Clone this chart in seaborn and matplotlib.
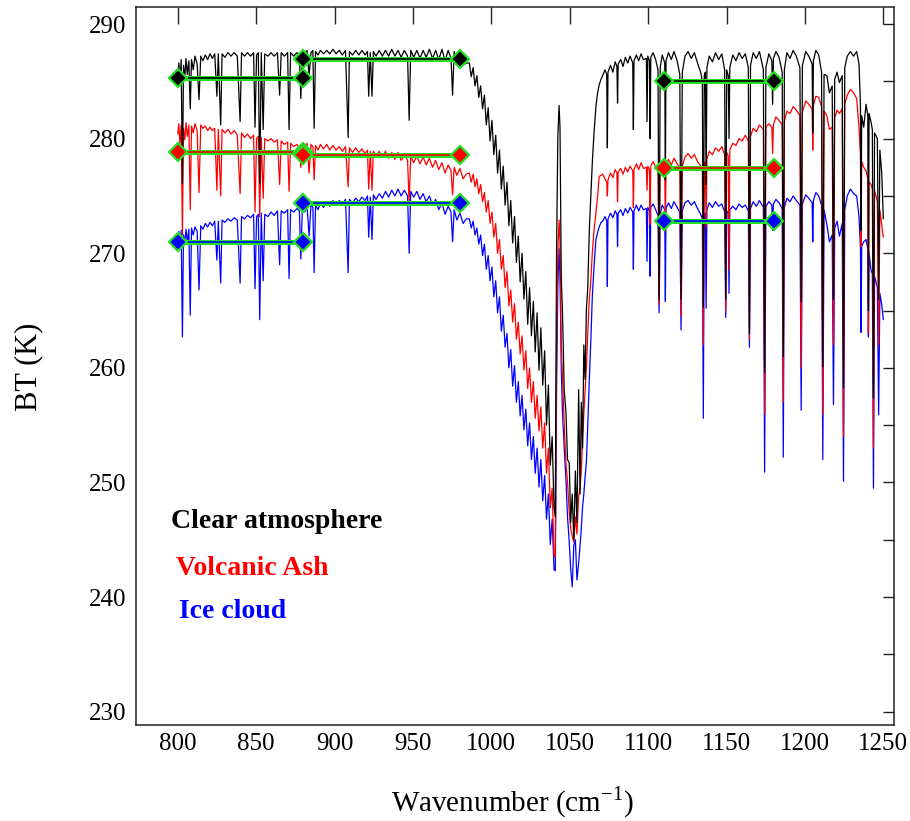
import numpy as np
import matplotlib
matplotlib.use('Agg')
import matplotlib.pyplot as plt
import seaborn as sns
from matplotlib.ticker import MultipleLocator

sns.set_style('white')
plt.rcParams['font.family'] = ['Liberation Serif', 'DejaVu Serif']
plt.rcParams['mathtext.fontset'] = 'custom'
plt.rcParams['mathtext.rm'] = 'Liberation Serif'
plt.rcParams['text.color'] = 'black'
plt.rcParams['axes.labelcolor'] = 'black'
plt.rcParams['xtick.labelcolor'] = 'black'
plt.rcParams['ytick.labelcolor'] = 'black'

# --- spectra (wavenumber in cm-1, BT in K) ---
# window 800-985
wn_win1 = [800.0, 800.7, 801.4, 802.2, 803.0, 803.7, 804.5, 805.3, 806.1, 807.1,
           808.0, 808.8, 809.9, 811.0, 812.4, 813.6, 814.7, 816.1, 817.6, 819.1,
           820.6, 822.1, 823.6, 825.0, 825.9, 827.4, 828.3, 830.1, 832.0, 834.0,
           836.0, 838.0, 839.8, 840.7, 842.6, 844.5, 846.5, 848.4, 849.3, 850.3,
           851.4, 852.3, 853.3, 854.5, 855.5, 857.5, 859.5, 861.5, 863.6, 865.0,
           866.0, 868.0, 870.1, 871.0, 872.0, 874.0, 876.0, 877.6, 878.5, 879.5,
           881.0, 882.5, 883.8, 885.0, 886.2, 887.0, 887.9, 889.5, 891.0, 893.0,
           895.0, 897.0, 899.0, 901.0, 903.0, 905.0, 907.0, 908.7, 909.5, 911.5,
           913.5, 915.5, 917.5, 919.5, 921.0, 921.8, 922.8, 923.9, 924.8, 926.5,
           928.5, 930.5, 932.5, 934.5, 936.5, 938.5, 940.5, 942.5, 944.5, 946.6,
           947.6, 948.6, 950.5, 952.5, 954.5, 956.5, 958.5, 960.5, 962.5, 964.5,
           966.5, 968.5, 970.5, 972.5, 974.3, 975.3, 976.3, 978.0, 980.0, 982.0,
           984.0]
clear_win1 = [285.2, 286.6, 285.0, 286.9, 276.1, 286.4, 285.3, 287.0, 285.6, 286.8,
              282.6, 286.9, 286.0, 287.2, 286.5, 283.4, 287.2, 286.8, 287.3, 286.9,
              287.4, 287.0, 287.4, 283.7, 287.4, 281.2, 287.4, 287.1, 287.5, 287.2,
              287.5, 287.2, 281.5, 287.5, 287.2, 287.5, 287.2, 287.5, 281.0, 287.3,
              287.5, 276.1, 287.5, 280.8, 287.4, 287.2, 287.5, 287.2, 287.5, 283.8,
              287.5, 287.2, 287.5, 280.8, 287.5, 287.2, 287.5, 287.3, 283.5, 287.6,
              287.3, 287.7, 285.5, 287.5, 287.7, 280.9, 287.6, 287.3, 287.7, 287.4,
              287.7, 287.4, 287.8, 287.4, 287.7, 287.3, 287.7, 280.1, 287.6, 287.3,
              287.7, 287.3, 287.7, 287.3, 287.6, 283.7, 287.5, 283.7, 287.6, 287.2,
              287.7, 287.2, 287.7, 287.2, 287.8, 287.2, 287.7, 287.1, 287.7, 287.2,
              281.6, 287.7, 287.1, 287.7, 287.0, 287.7, 287.1, 287.8, 287.0, 287.7,
              286.9, 287.8, 286.8, 287.7, 287.0, 283.8, 287.6, 286.8, 287.3, 286.4,
              286.6]
ash_win1 = [280.4, 281.3, 279.6, 281.2, 271.6, 280.9, 279.9, 281.4, 280.2, 281.2,
            273.8, 281.1, 280.5, 281.3, 280.7, 275.3, 281.2, 280.9, 281.1, 280.7,
            281.0, 280.7, 280.9, 275.5, 280.8, 275.0, 280.8, 280.5, 280.8, 280.4,
            280.7, 280.3, 275.2, 280.5, 280.1, 280.4, 280.0, 280.3, 273.6, 280.0,
            280.2, 273.2, 280.1, 274.8, 280.0, 279.8, 280.0, 279.7, 279.9, 276.0,
            279.8, 279.5, 279.7, 275.4, 279.6, 279.3, 279.5, 279.2, 277.5, 279.4,
            279.0, 279.6, 277.0, 279.5, 279.3, 276.4, 279.4, 279.0, 279.5, 279.1,
            279.5, 279.0, 279.4, 279.0, 279.3, 278.9, 279.3, 275.8, 279.2, 278.8,
            279.2, 278.8, 279.1, 278.7, 279.0, 275.6, 278.9, 275.5, 278.9, 278.5,
            278.9, 278.4, 278.9, 278.3, 278.8, 278.2, 278.8, 278.1, 278.6, 278.1,
            274.4, 278.5, 277.9, 278.5, 277.8, 278.4, 277.7, 278.3, 277.5, 278.1,
            277.3, 277.9, 277.0, 277.7, 277.2, 275.1, 277.5, 276.8, 277.4, 276.5,
            276.9]
ice_win1 = [271.2, 271.9, 270.4, 272.0, 262.7, 271.6, 270.9, 272.1, 271.0, 272.1,
            264.6, 272.2, 271.6, 272.3, 271.9, 266.8, 272.4, 272.1, 272.6, 272.3,
            272.7, 272.4, 272.8, 269.4, 272.8, 267.4, 272.9, 272.7, 273.0, 272.8,
            273.1, 272.9, 267.4, 273.2, 273.0, 273.3, 273.1, 273.4, 266.9, 273.2,
            273.4, 264.2, 273.5, 267.6, 273.4, 273.2, 273.6, 273.3, 273.7, 269.0,
            273.7, 273.5, 273.8, 267.8, 273.8, 273.6, 273.9, 273.7, 269.5, 274.0,
            273.6, 274.1, 271.5, 274.2, 274.0, 268.3, 274.2, 273.8, 274.4, 274.0,
            274.5, 274.1, 274.6, 274.2, 274.6, 274.3, 274.7, 268.3, 274.7, 274.4,
            274.8, 274.5, 274.9, 274.6, 275.0, 271.4, 274.9, 271.2, 275.1, 274.7,
            275.2, 274.8, 275.4, 274.9, 275.5, 275.0, 275.6, 275.0, 275.5, 275.0,
            270.0, 275.4, 274.9, 275.4, 274.7, 275.2, 274.5, 275.0, 274.2, 274.7,
            273.8, 274.4, 273.4, 274.1, 273.6, 271.0, 273.8, 272.9, 273.5, 272.6,
            273.0]

# ozone band 986-1070
wn_band = [986.0, 987.2, 988.4, 989.6, 990.8, 992.0, 993.2, 994.4, 995.6, 996.8,
           998.0, 999.2, 1000.4, 1001.6, 1002.8, 1004.0, 1005.2, 1006.4, 1007.6, 1008.8,
           1010.0, 1011.2, 1012.4, 1013.6, 1014.8, 1016.0, 1017.2, 1018.4, 1019.6, 1020.8,
           1022.0, 1023.2, 1024.4, 1025.6, 1026.8, 1028.0, 1029.2, 1030.4, 1031.6, 1032.8,
           1034.0, 1035.2, 1036.4, 1037.6, 1038.8, 1040.0, 1040.8, 1041.6, 1042.4, 1043.2,
           1043.8, 1044.6, 1045.4, 1046.5, 1047.6, 1048.6, 1049.7, 1050.6, 1051.6, 1052.6,
           1053.6, 1054.6, 1055.7, 1056.6, 1057.4, 1058.2, 1059.0, 1059.8, 1060.6, 1061.5,
           1062.5, 1063.5, 1064.4, 1065.5, 1066.7, 1067.8, 1068.8, 1070.0]
clear_band = [286.6, 285.4, 286.2, 284.6, 285.5, 283.6, 284.6, 282.6, 283.8, 281.2,
              282.7, 279.8, 281.6, 278.6, 280.3, 277.0, 279.0, 275.6, 277.6, 274.2,
              276.2, 272.4, 274.6, 270.9, 273.2, 269.2, 271.5, 267.5, 270.0, 266.0,
              268.4, 263.8, 267.0, 262.8, 265.8, 261.4, 264.8, 259.8, 263.5, 258.5,
              261.5, 255.0, 258.5, 251.5, 254.0, 247.8, 247.0, 270.0, 280.0, 282.9,
              281.0, 268.0, 264.8, 258.0, 256.1, 252.0, 251.7, 246.5, 249.0, 245.0,
              251.0, 246.5, 258.1, 249.0, 257.0, 253.0, 262.0, 259.0, 265.0, 267.0,
              272.0, 275.0, 277.9, 280.5, 282.8, 284.0, 284.7, 285.2]
ash_band = [277.0, 276.2, 276.9, 275.8, 276.5, 275.2, 276.0, 274.5, 275.3, 273.6,
            274.6, 272.6, 273.6, 271.4, 272.6, 270.0, 271.2, 268.6, 269.8, 267.0,
            268.4, 265.4, 266.8, 264.0, 265.6, 262.5, 264.0, 261.2, 262.8, 259.8,
            261.5, 258.2, 260.0, 257.0, 258.8, 255.6, 257.6, 254.5, 256.6, 253.0,
            255.2, 250.8, 253.0, 247.8, 249.5, 243.6, 243.5, 262.0, 270.0, 272.9,
            271.0, 262.0, 259.0, 255.0, 251.7, 250.0, 247.4, 246.0, 245.3, 244.8,
            247.0, 245.5, 248.8, 249.5, 251.0, 253.7, 256.0, 258.0, 260.0, 263.0,
            266.0, 267.7, 270.0, 272.0, 273.5, 275.0, 276.7, 276.8]
ice_band = [273.0, 272.2, 272.8, 271.6, 272.2, 270.8, 271.6, 269.8, 270.8, 268.6,
            269.8, 267.6, 268.8, 266.2, 267.6, 264.8, 266.2, 263.2, 264.6, 261.8,
            263.0, 260.0, 261.6, 258.4, 260.2, 257.0, 258.8, 255.8, 257.6, 254.6,
            256.4, 253.2, 255.2, 252.0, 254.0, 250.8, 253.0, 249.6, 252.0, 248.4,
            250.6, 246.8, 249.0, 244.6, 246.8, 242.4, 242.3, 258.0, 267.0, 270.4,
            268.0, 260.0, 256.1, 253.0, 250.3, 247.0, 244.8, 242.5, 240.9, 244.5,
            245.0, 241.5, 243.0, 244.5, 246.0, 247.9, 249.0, 250.5, 251.7, 255.0,
            259.0, 262.5, 266.2, 268.8, 271.2, 271.8, 272.3, 272.7]

# window 1071-1250
wn_win2 = [1071.0, 1072.5, 1073.6, 1074.0, 1074.4, 1076.0, 1077.5, 1079.0, 1080.1, 1080.5,
           1080.9, 1082.5, 1084.0, 1085.5, 1087.0, 1088.5, 1090.2, 1090.6, 1091.0, 1092.5,
           1094.0, 1095.5, 1097.0, 1098.9, 1099.3, 1099.8, 1100.9, 1101.3, 1101.7, 1103.2,
           1104.8, 1106.3, 1107.0, 1107.7, 1109.0, 1110.6, 1111.0, 1111.4, 1113.0, 1114.8,
           1116.5, 1118.5, 1120.2, 1121.0, 1121.8, 1123.5, 1125.5, 1127.5, 1129.5, 1131.5,
           1133.5, 1134.6, 1135.2, 1135.8, 1136.5, 1137.0, 1137.5, 1139.0, 1141.0, 1143.0,
           1145.0, 1147.0, 1148.8, 1149.5, 1150.1, 1151.1, 1151.6, 1152.1, 1154.0, 1156.0,
           1158.0, 1160.0, 1162.0, 1163.9, 1164.6, 1165.3, 1167.0, 1169.0, 1171.0, 1173.5,
           1174.3, 1175.1, 1177.0, 1178.9, 1179.4, 1179.9, 1181.5, 1183.5, 1185.5, 1186.2,
           1186.9, 1188.5, 1190.5, 1192.5, 1194.5, 1196.8, 1197.6, 1198.4, 1200.5, 1202.5,
           1204.6, 1205.0, 1205.4, 1207.0, 1208.8, 1210.6, 1211.4, 1212.2, 1214.0, 1215.6,
           1217.4, 1218.2, 1219.0, 1220.5, 1222.0, 1223.8, 1224.6, 1225.4, 1227.0, 1229.0,
           1231.0, 1233.0, 1234.5, 1235.4, 1235.8, 1236.2, 1237.5, 1239.0, 1240.1, 1240.5,
           1240.9, 1242.2, 1243.0, 1243.7, 1244.4, 1246.2, 1247.0, 1247.8, 1249.0, 1250.0]
clear_win2 = [285.5, 286.0, 285.6, 279.2, 285.8, 286.4, 285.8, 286.7, 286.3, 283.1,
              286.5, 286.9, 286.3, 287.1, 286.6, 287.2, 286.6, 280.8, 286.8, 287.3,
              286.8, 287.4, 286.9, 287.0, 281.5, 287.2, 286.8, 280.0, 287.1, 287.5,
              286.9, 286.0, 266.0, 286.2, 287.3, 286.6, 276.4, 286.8, 287.5, 286.9,
              287.6, 286.8, 285.6, 266.0, 285.8, 287.2, 287.6, 287.0, 287.5, 286.6,
              285.8, 285.0, 265.3, 285.5, 285.8, 276.0, 286.2, 287.2, 286.7, 287.5,
              286.9, 287.4, 286.0, 266.0, 286.0, 285.5, 280.0, 286.2, 287.3, 286.8,
              287.5, 287.0, 287.4, 286.2, 263.0, 286.4, 287.5, 287.0, 287.6, 286.0,
              259.6, 286.2, 287.4, 286.8, 283.0, 287.0, 287.6, 287.1, 285.8, 261.0,
              286.0, 287.5, 287.0, 287.7, 287.2, 286.2, 265.8, 286.4, 287.6, 287.2,
              286.5, 280.5, 286.8, 287.7, 287.3, 285.8, 260.1, 285.6, 285.5, 284.0,
              284.6, 266.0, 285.2, 285.8, 284.9, 285.5, 258.3, 286.2, 287.2, 287.6,
              287.2, 287.6, 286.5, 283.0, 272.0, 282.0, 281.0, 283.0, 282.0, 265.0,
              282.2, 281.4, 280.8, 257.4, 280.5, 280.0, 266.0, 279.0, 277.0, 273.0]
ash_win2 = [276.9, 276.5, 276.2, 275.0, 276.4, 277.0, 276.6, 277.3, 277.0, 274.5,
            277.1, 277.4, 276.9, 277.5, 277.1, 277.6, 277.2, 274.0, 277.3, 277.8,
            277.3, 277.9, 277.4, 277.5, 275.5, 277.6, 277.3, 272.5, 277.6, 278.0,
            277.5, 277.2, 265.5, 277.3, 277.9, 277.4, 272.0, 277.6, 278.2, 277.7,
            278.3, 277.8, 277.5, 264.5, 277.6, 278.4, 278.7, 278.3, 278.6, 278.0,
            277.6, 277.4, 262.0, 277.8, 278.0, 272.3, 278.2, 278.9, 278.6, 279.2,
            278.9, 279.3, 278.6, 265.0, 278.8, 278.5, 268.6, 279.0, 279.6, 279.4,
            280.0, 279.8, 280.3, 279.8, 262.5, 280.2, 280.9, 280.6, 281.2, 280.8,
            256.0, 281.0, 281.3, 281.0, 278.7, 281.2, 281.9, 281.6, 281.2, 257.0,
            281.5, 282.4, 282.2, 282.8, 282.5, 282.0, 260.0, 282.3, 283.3, 283.0,
            282.6, 279.0, 282.9, 283.7, 283.6, 282.8, 256.0, 282.4, 282.0, 280.8,
            281.0, 262.0, 281.8, 282.5, 282.2, 282.6, 254.0, 283.0, 283.8, 284.3,
            284.0, 283.5, 281.0, 278.5, 270.6, 278.0, 277.5, 277.2, 276.5, 263.0,
            276.2, 276.0, 275.6, 253.0, 275.5, 274.5, 262.0, 273.8, 272.5, 271.4]
ice_win2 = [272.8, 273.2, 272.8, 267.1, 273.0, 273.5, 273.1, 273.7, 273.4, 270.6,
            273.5, 273.8, 273.3, 273.9, 273.5, 274.0, 273.6, 268.6, 273.7, 274.2,
            273.7, 274.2, 273.8, 273.9, 269.3, 274.0, 273.7, 268.0, 274.0, 274.3,
            273.8, 273.3, 264.8, 273.4, 274.2, 273.8, 265.8, 273.9, 274.4, 273.9,
            274.5, 274.0, 273.6, 263.3, 273.7, 274.4, 274.6, 274.2, 274.5, 273.9,
            273.4, 273.0, 255.6, 273.2, 273.5, 265.2, 273.8, 274.4, 274.0, 274.5,
            274.1, 274.3, 273.6, 264.4, 273.7, 273.5, 266.5, 273.8, 274.1, 273.8,
            274.3, 274.0, 274.2, 273.7, 261.8, 273.9, 274.5, 274.1, 274.6, 274.0,
            250.9, 274.1, 274.5, 274.2, 272.0, 274.3, 274.7, 274.4, 273.9, 252.2,
            274.0, 274.8, 274.5, 275.0, 274.6, 274.2, 256.3, 274.3, 275.1, 274.8,
            274.4, 271.0, 274.6, 275.3, 275.0, 274.2, 252.0, 273.8, 272.5, 271.0,
            271.6, 256.8, 272.2, 272.8, 271.5, 272.6, 250.1, 273.8, 275.0, 275.6,
            275.2, 275.0, 273.2, 270.5, 263.1, 270.6, 271.0, 271.2, 270.4, 262.7,
            270.0, 268.5, 268.2, 249.5, 268.0, 267.0, 255.9, 266.5, 265.5, 264.2]

# band-averaged BT (green bars)
band_lo = [800, 880, 1110]
band_hi = [880, 980, 1180]
clear_mean = [285.3, 286.95, 285.05]
ash_mean = [278.8, 278.6, 277.4]
ice_mean = [271.0, 274.35, 272.8]

series_names = ['Clear atmosphere', 'Volcanic Ash', 'Ice cloud']
series_colors = ['black', '#ff0000', '#0000ff']

wn = np.array(wn_win1 + wn_band + wn_win2)
spectra = {
    'Clear atmosphere': np.array(clear_win1 + clear_band + clear_win2),
    'Volcanic Ash': np.array(ash_win1 + ash_band + ash_win2),
    'Ice cloud': np.array(ice_win1 + ice_band + ice_win2),
}
means = {'Clear atmosphere': clear_mean, 'Volcanic Ash': ash_mean, 'Ice cloud': ice_mean}
for k in spectra:
    assert len(spectra[k]) == len(wn), k

fig = plt.figure(figsize=(9.1, 8.21), dpi=100)
ax = fig.add_axes([136 / 910, 1 - 725 / 821, 758.3 / 910, 717.7 / 821])

# ice first, clear on top
for name, col in list(zip(series_names, series_colors))[::-1]:
    sns.lineplot(x=wn, y=spectra[name], ax=ax, color=col, lw=0.9,
                 estimator=None, sort=False, zorder=2)

lime = '#22e022'
for name, col in zip(series_names, series_colors):
    for x0, x1, v in zip(band_lo, band_hi, means[name]):
        ax.plot([x0, x1], [v, v], color=lime, lw=3.6, solid_capstyle='butt', zorder=4)
        ax.plot([x0, x1], [v, v], color=col, lw=1.2, zorder=5)
        ax.plot([x0, x1], [v, v], ls='none', marker='D', ms=9, mfc=col,
                mec=lime, mew=1.6, zorder=6)

# in-plot labels
label_pos = [(795.8, 246.6), (799.0, 242.5), (800.8, 238.7)]
for name, col, (lx, ly) in zip(series_names, series_colors, label_pos):
    ax.text(lx, ly, name, color=col, fontsize=20, fontweight='bold',
            ha='left', va='center')

ax.set_xlim(773.4, 1257.0)
ax.set_ylim(228.84, 291.46)
ax.xaxis.set_major_locator(MultipleLocator(50))
ax.yaxis.set_major_locator(MultipleLocator(10))
ax.yaxis.set_minor_locator(MultipleLocator(5))
ax.tick_params(which='both', direction='in', length=12.5, width=1, color='#222222',
               top=True, right=True, labelsize=18)
ax.tick_params(axis='x', pad=6)
ax.tick_params(axis='y', pad=7)
for t in ax.yaxis.get_major_ticks() + ax.yaxis.get_minor_ticks():
    t.tick2line.set_markersize(8)
for s in ax.spines.values():
    s.set_color('#222222')
    s.set_linewidth(1.1)
ax.grid(False)

ax.set_xlabel('Wavenumber (cm$^{-1}$)', fontsize=21)
ax.set_ylabel('BT (K)', fontsize=22)
ax.xaxis.set_label_coords(0.496, -0.083)
ax.yaxis.set_label_coords(-0.1226, 0.4988)

fig.savefig('out.png', dpi=100, facecolor='white')
